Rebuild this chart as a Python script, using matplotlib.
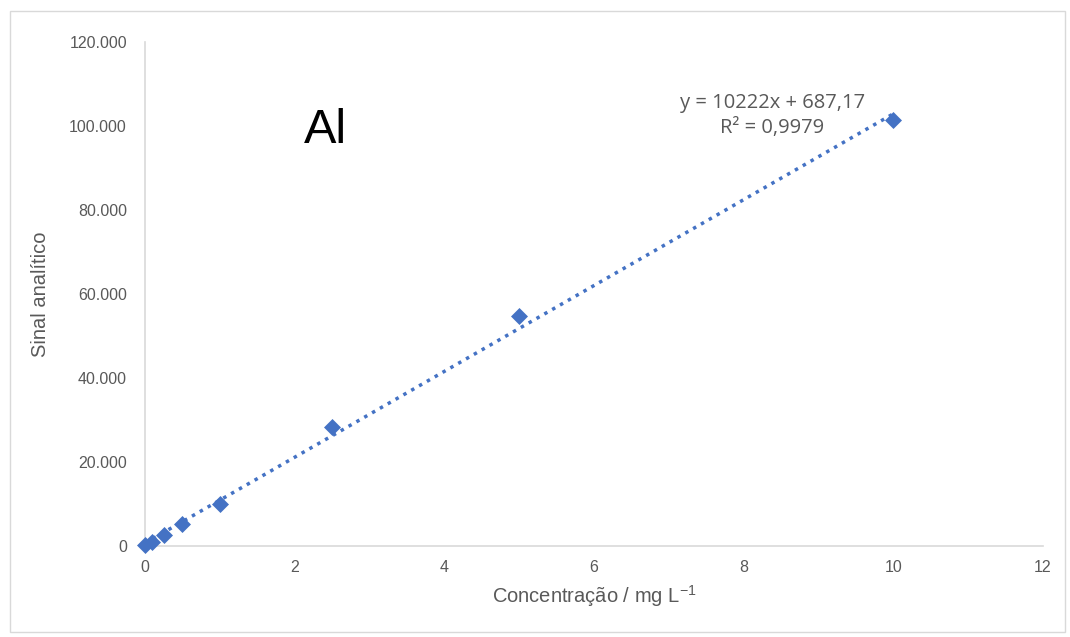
import matplotlib
matplotlib.use("Agg")
import matplotlib.pyplot as plt
import numpy as np
from matplotlib.patches import Rectangle
from matplotlib.ticker import FuncFormatter

conc = [0, 0.1, 0.25, 0.5, 1, 2.5, 5, 10]
signal = [300, 900, 2600, 5300, 10000, 28300, 54800, 101400]
slope = 10222
intercept = 687.17
eq_text = "y = 10222x + 687,17"
r2_text = "R² = 0,9979"
xticks = [0, 2, 4, 6, 8, 10, 12]
yticks = [0, 20000, 40000, 60000, 80000, 100000, 120000]

blue = "#4472C4"
gray = "#595959"

fig = plt.figure(figsize=(10.7, 6.37), dpi=100)
fig.patches.append(Rectangle((10/1070, 1-632/637), 1055/1070, 621/637, transform=fig.transFigure,
                             fill=False, edgecolor="#D9D9D9", linewidth=1))
ax = fig.add_axes([145/1070, 1-546/637, 898/1070, 504/637])

xs = np.array([conc[0], conc[-1]])
ax.plot(xs, slope*xs + intercept, color=blue, linestyle=(0, (1, 1.6)), linewidth=2.5, zorder=2)
ax.scatter(conc, signal, marker="D", s=75, color=blue, zorder=3, linewidths=0, clip_on=False)

ax.set_xlim(0, 12)
ax.set_ylim(0, 120000)
ax.set_xticks(xticks)
ax.set_yticks(yticks)
ax.yaxis.set_major_formatter(FuncFormatter(lambda v, p: "0" if v == 0 else f"{int(v):,}".replace(",", ".")))
for s in ["top", "right"]:
    ax.spines[s].set_visible(False)
for s in ["left", "bottom"]:
    ax.spines[s].set_color("#D9D9D9")
    ax.spines[s].set_linewidth(1.2)
ax.tick_params(axis="both", length=0, labelsize=11.5, labelcolor=gray, labelfontfamily="Liberation Sans")
ax.tick_params(axis="y", pad=13)
ax.tick_params(axis="x", pad=10)

ax.set_xlabel("Concentração / mg L$^{\\mathregular{-1}}$", fontsize=14.5, color=gray,
              family="Liberation Sans", labelpad=6)
ax.set_ylabel("Sinal analítico", fontsize=14.5, color=gray, family="Liberation Sans", labelpad=14)

ax.text(2.12, 96000, "Al", fontsize=35, family="Liberation Sans", color="black")
ax.text(8.38, 104300, eq_text, fontsize=14.5, color=gray, family="Open Sans", ha="center")
ax.text(8.38, 98400, r2_text, fontsize=14.5, color=gray, family="Open Sans", ha="center")

fig.savefig("out.png", dpi=100)
